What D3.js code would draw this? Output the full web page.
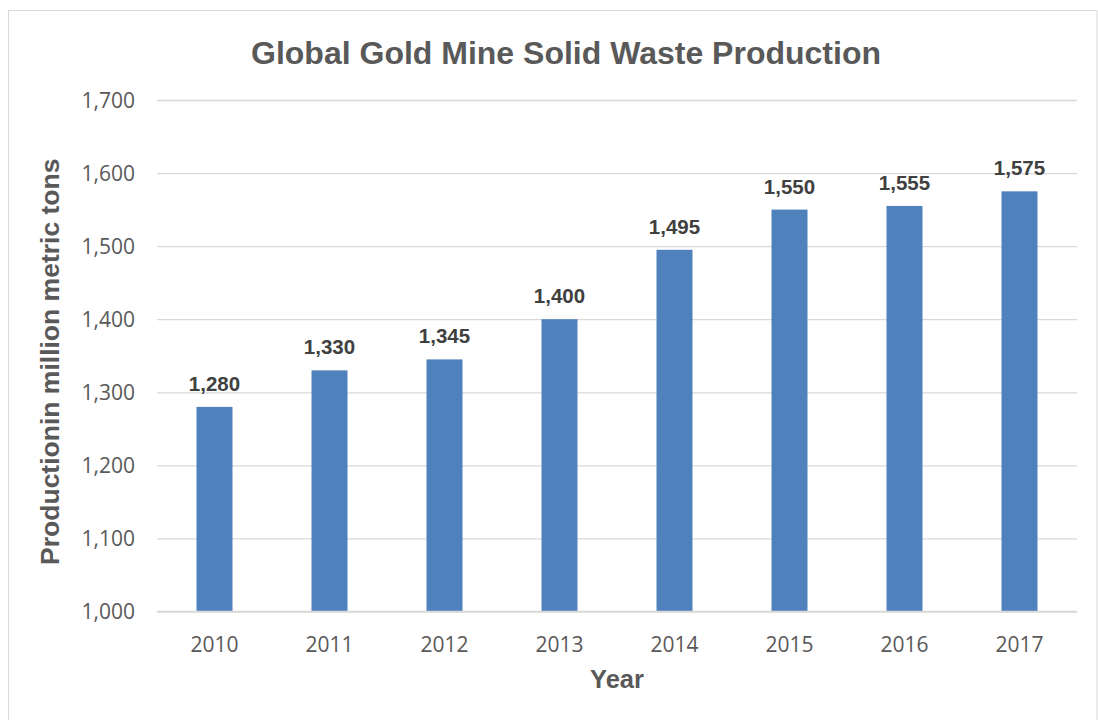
<!DOCTYPE html>
<html>
<head>
<meta charset="utf-8">
<script src="https://cdn.jsdelivr.net/npm/d3@7"></script>
<style>
  html, body { margin: 0; padding: 0; background: #ffffff; }
  svg { display: block; }
</style>
</head>
<body>
<svg id="chart" width="1098" height="720"></svg>
<script>
// Global gold mine solid waste production, million metric tons
const years = ["2010", "2011", "2012", "2013", "2014", "2015", "2016", "2017"];
const production = [1280, 1330, 1345, 1400, 1495, 1550, 1555, 1575];
const yTicks = [1000, 1100, 1200, 1300, 1400, 1500, 1600, 1700];

const titleText = "Global Gold Mine Solid Waste Production";
const yTitleText = "Productionin million metric tons";
const xTitleText = "Year";

const W = 1098, H = 720;
const plot = { left: 157, right: 1077, top: 100, bottom: 611.5 };

const svg = d3.select("#chart");

// chart area frame
svg.append("rect")
  .attr("x", 8.5).attr("y", 10.5)
  .attr("width", 1088.5).attr("height", 720)
  .attr("fill", "#ffffff")
  .attr("stroke", "#d9d9d9").attr("stroke-width", 1);

const x = d3.scaleBand().domain(years).range([plot.left, plot.right]).padding(0);
const y = d3.scaleLinear().domain([1000, 1700]).range([plot.bottom, plot.top]);

const barWidth = x.bandwidth() * 0.313;
const fmt = d3.format(",");

// horizontal gridlines
const yAxis = d3.axisLeft(y)
  .tickValues(yTicks)
  .tickFormat(fmt)
  .tickSize(-(plot.right - plot.left))
  .tickPadding(22);

const gy = svg.append("g")
  .attr("transform", `translate(${plot.left},0)`)
  .call(yAxis);
gy.select(".domain").remove();
gy.selectAll(".tick line").attr("stroke", "#d9d9d9").attr("stroke-width", 1.3);
gy.selectAll(".tick text")
  .attr("fill", "#595959")
  .attr("font-family", "'Open Sans', sans-serif")
  .attr("font-size", 21)
  .attr("dy", "0.34em");

// category axis
const xAxis = d3.axisBottom(x).tickSize(0).tickPadding(0);
const gx = svg.append("g")
  .attr("transform", `translate(0,${plot.bottom})`)
  .call(xAxis);
gx.select(".domain").remove();
gx.selectAll(".tick text")
  .attr("fill", "#595959")
  .attr("font-family", "'Open Sans', sans-serif")
  .attr("font-size", 21)
  .attr("dy", "0")
  .attr("y", 40);

// bars
svg.append("g").selectAll("rect")
  .data(years.map((yr, i) => ({ yr, v: production[i] })))
  .join("rect")
  .attr("x", d => x(d.yr) + (x.bandwidth() - barWidth) / 2)
  .attr("y", d => y(d.v))
  .attr("width", barWidth)
  .attr("height", d => y(1000) - y(d.v))
  .attr("fill", "#4f81bd");

// baseline over the bars' feet
svg.append("line")
  .attr("x1", plot.left).attr("x2", plot.right)
  .attr("y1", plot.bottom).attr("y2", plot.bottom)
  .attr("stroke", "#d9d9d9").attr("stroke-width", 1.3);

// value labels
svg.append("g").selectAll("text")
  .data(years.map((yr, i) => ({ yr, v: production[i] })))
  .join("text")
  .attr("x", d => x(d.yr) + x.bandwidth() / 2)
  .attr("y", d => y(d.v) - 16)
  .attr("text-anchor", "middle")
  .attr("font-family", "'Liberation Sans', Arial, sans-serif")
  .attr("font-weight", "bold")
  .attr("font-size", 20.5)
  .attr("fill", "#404040")
  .text(d => fmt(d.v));

// titles
svg.append("text")
  .attr("x", 566).attr("y", 64)
  .attr("text-anchor", "middle")
  .attr("font-family", "'Liberation Sans', Arial, sans-serif")
  .attr("font-weight", "bold")
  .attr("font-size", 32)
  .attr("fill", "#595959")
  .text(titleText);

svg.append("text")
  .attr("transform", `translate(59,${(plot.top + plot.bottom) / 2 + 6}) rotate(-90)`)
  .attr("text-anchor", "middle")
  .attr("font-family", "'Liberation Sans', Arial, sans-serif")
  .attr("font-weight", "bold")
  .attr("font-size", 26.5)
  .attr("fill", "#595959")
  .text(yTitleText);

svg.append("text")
  .attr("x", (plot.left + plot.right) / 2).attr("y", 688)
  .attr("text-anchor", "middle")
  .attr("font-family", "'Liberation Sans', Arial, sans-serif")
  .attr("font-weight", "bold")
  .attr("font-size", 25.5)
  .attr("fill", "#595959")
  .text(xTitleText);
</script>
</body>
</html>
